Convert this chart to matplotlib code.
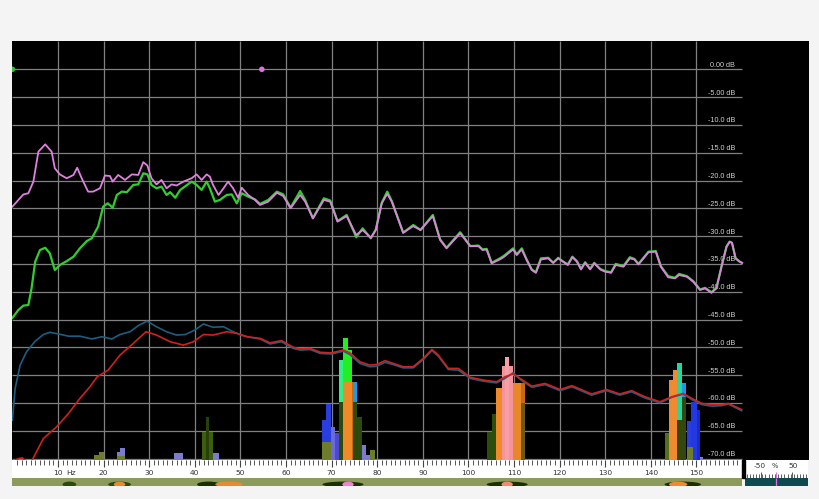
import matplotlib
matplotlib.use("Agg")
import matplotlib.pyplot as plt
from matplotlib.patches import Ellipse, Rectangle

# ---------------- data ----------------
pink_f = [0, 1.2, 2.4, 3.5, 4.6, 5.7, 7.2, 8.6, 9.3, 10.4, 11.9, 13.4, 14.2, 15.2, 16.6, 17.7,
          19.2, 20.3, 21.4, 22.0, 23.2, 24.7, 26.2, 27.6, 28.7, 29.6, 30.5, 31.6, 32.7, 33.8,
          34.9, 36.0, 37.5, 39.3, 40.4, 41.5, 42.6, 43.3, 44.0, 45.2, 46.3, 47.3, 48.4, 49.5,
          50.3, 51.7, 53.2, 54.3, 56.1, 58.0, 59.4, 61.0, 63.1, 64.2, 65.9, 68.3, 69.7, 71.3,
          73.3, 75.4, 76.8, 78.6, 79.7, 81.0, 82.2, 83.2, 85.7, 87.9, 89.5, 92.2, 93.8, 95.2,
          98.2, 100.4, 102.2, 103.1, 104.0, 105.1, 106.9, 107.7, 109.8, 110.6, 111.7, 112.8,
          113.9, 114.8, 115.9, 117.5, 118.6, 119.7, 120.8, 121.8, 122.8, 123.8, 124.7, 125.6,
          126.7, 127.6, 128.9, 130.0, 131.3, 132.3, 134.0, 135.4, 136.4, 137.3, 139.5, 141.1,
          142.2, 143.8, 145.3, 146.2, 147.9, 149.3, 150.8, 151.9, 153.3, 154.4, 155.5, 156.6,
          157.3, 157.8, 158.6, 159.5, 160.0]
pink_db = [-24.7, -23.6, -22.5, -22.3, -20.2, -14.8, -13.5, -14.8, -17.8, -18.9, -19.6, -19.0,
           -17.7, -19.6, -22.0, -22.0, -21.4, -19.1, -19.2, -20.2, -19.0, -19.9, -18.9, -19.0,
           -16.7, -17.3, -19.6, -20.7, -19.9, -21.4, -20.7, -20.9, -20.2, -19.6, -18.9, -19.9,
           -18.9, -19.3, -20.8, -22.6, -21.4, -20.2, -21.4, -23.1, -21.3, -22.6, -23.5, -24.4,
           -23.8, -22.2, -22.8, -25.0, -22.6, -23.8, -26.8, -23.5, -23.8, -27.4, -26.4, -29.8,
           -28.9, -30.3, -28.9, -24.1, -22.4, -23.8, -29.4, -28.2, -28.9, -26.4, -30.7, -32.2,
           -29.5, -31.8, -31.8, -32.5, -32.4, -34.9, -34.2, -33.8, -32.4, -33.4, -32.4, -34.3,
           -36.1, -36.6, -34.2, -34.0, -34.8, -34.0, -34.6, -35.2, -33.8, -34.6, -36.0, -34.8,
           -36.0, -34.9, -36.0, -36.4, -36.6, -35.2, -35.5, -34.0, -34.2, -35.1, -32.9, -32.8,
           -35.5, -37.4, -37.6, -37.0, -37.3, -38.2, -39.7, -39.4, -40.2, -39.4, -35.5, -31.9,
           -31.0, -31.2, -34.0, -34.6, -34.8]

green_f = [0, 1.3, 2.4, 3.5, 4.2, 5.0, 6.05, 7.2, 8.2, 9.3, 10.4, 11.9, 13.4, 14.8, 16.3, 17.4,
           18.8, 19.9, 20.9, 22.0, 22.9, 24.0, 25.1, 26.5, 27.6, 28.7, 29.6, 30.5, 31.6, 32.7,
           33.8, 34.6, 35.7, 36.8, 39.3, 40.4, 41.5, 42.6, 43.3, 44.4, 45.5, 47.0, 48.1, 49.2,
           50.3, 51.7, 53.2, 54.3, 56.1, 58.0, 59.4, 61.0, 63.1, 64.2, 65.9, 68.3, 69.7, 71.3,
           73.3, 75.4, 76.8, 78.6, 79.7, 81.0, 82.2, 83.2, 85.7, 87.9, 89.5, 92.2, 93.8, 95.2,
           98.2, 100.4, 102.2, 103.1, 104.0, 105.1, 106.9, 107.7, 109.8, 110.6, 111.7, 112.8,
           113.9, 114.8, 115.9, 117.5, 118.6, 119.7, 120.8, 121.8, 122.8, 123.8, 124.7, 125.6,
           126.7, 127.6, 128.9, 130.0, 131.3, 132.3, 134.0, 135.4, 136.4, 137.3, 139.5, 141.1,
           142.2, 143.8, 145.3, 146.2, 147.9, 149.3, 150.8, 151.9, 153.3, 154.4, 155.5, 156.6,
           157.3, 157.8, 158.6, 159.5, 160.0]
green_db = [-44.7, -43.3, -42.5, -42.4, -39.4, -34.6, -32.5, -32.1, -33.1, -36.1, -35.2, -34.5,
            -33.7, -32.2, -30.9, -30.4, -28.3, -24.7, -24.1, -24.9, -22.6, -22.0, -22.1, -20.8,
            -20.7, -18.7, -18.9, -20.8, -21.4, -21.1, -22.6, -22.1, -23.1, -21.7, -20.2, -20.8,
            -21.7, -20.2, -21.4, -23.8, -23.5, -22.6, -22.5, -24.1, -22.3, -22.9, -23.4, -24.2,
            -23.5, -22.0, -22.5, -24.9, -21.9, -23.5, -26.8, -23.2, -23.6, -27.3, -26.2, -30.2,
            -28.6, -30.4, -28.8, -24.0, -22.0, -23.7, -29.4, -28.0, -28.9, -26.2, -30.6, -32.1,
            -29.3, -31.8, -31.7, -32.4, -32.3, -34.8, -34.0, -33.6, -32.2, -33.3, -32.2, -34.3,
            -36.0, -36.5, -34.0, -33.9, -34.8, -33.9, -34.6, -35.1, -33.7, -34.5, -35.9, -34.7,
            -35.9, -34.8, -35.9, -36.3, -36.5, -35.0, -35.4, -33.8, -34.1, -35.0, -32.8, -32.7,
            -35.4, -37.2, -37.5, -36.8, -37.2, -38.1, -39.6, -39.3, -40.1, -39.3, -35.5, -31.9,
            -31.0, -31.2, -34.0, -34.6, -34.8]

blue_f = [0, 0.6, 1.7, 3.1, 5.0, 6.8, 8.2, 10.1, 12.3, 14.8, 17.4, 19.6, 21.8, 23.6, 25.8, 27.6,
          29.5, 31.6, 33.8, 36.0, 37.9, 40.0, 41.9, 44.0, 46.3, 48.4, 50.6, 52.1, 54.3, 56.5,
          59.0, 61.6, 63.1, 65.3, 67.5, 70.0, 72.6, 74.0, 76.2, 78.4, 79.9, 81.7, 83.5, 85.7,
          87.9, 90.1, 92.0, 93.4, 95.6, 97.8, 100.4, 103.3, 106.2, 108.0, 109.8, 111.7, 113.9,
          116.8, 120.1, 122.7, 127.0, 130.3, 133.2, 135.8, 138.7, 142.0, 144.6, 147.1, 149.0,
          151.2, 153.4, 155.5, 157.0, 159.9]
blue_db = [-63.1, -57.4, -53.2, -50.8, -48.9, -47.7, -47.3, -47.6, -48.0, -48.0, -48.5, -48.1,
           -48.5, -47.7, -47.2, -46.1, -45.3, -46.3, -47.2, -47.8, -47.7, -46.9, -45.8, -46.4,
           -46.3, -47.2, -47.9, -48.2, -48.5, -49.4, -49.0, -50.2, -50.5, -50.4, -51.1, -51.2,
           -50.7, -51.3, -52.9, -53.5, -53.4, -52.7, -53.1, -53.7, -53.7, -52.2, -50.6, -51.6,
           -54.0, -54.1, -55.6, -56.1, -56.4, -55.6, -54.6, -56.0, -57.2, -56.7, -57.8, -57.1,
           -58.6, -57.8, -58.6, -58.0, -59.1, -60.0, -59.0, -58.4, -59.4, -60.3, -60.6, -60.5,
           -60.2, -61.4]

red_f = [0, 1.4, 2.2, 3.0, 4.2, 6.8, 9.7, 12.3, 14.8, 17.0, 18.6, 21.0, 23.6, 26.5, 29.3, 31.6,
         34.6, 37.5, 39.7, 41.9, 44.0, 47.0, 49.2, 51.4, 54.3, 56.5, 59.0, 61.6, 63.1, 65.3,
         67.5, 70.0, 72.6, 74.0, 76.2, 78.4, 79.9, 81.7, 83.5, 85.7, 87.9, 90.1, 92.0, 93.4,
         95.6, 97.8, 100.4, 103.3, 106.2, 108.0, 109.8, 111.7, 113.9, 116.8, 120.1, 122.7,
         127.0, 130.3, 133.2, 135.8, 138.7, 142.0, 144.6, 147.1, 149.0, 151.2, 153.4, 155.5,
         157.0, 159.9]
red_db = [-70.5, -70.0, -69.9, -70.5, -70.5, -66.4, -64.3, -61.9, -59.2, -57.1, -55.3, -54.1,
          -51.4, -49.3, -47.2, -47.8, -49.0, -49.6, -49.0, -47.7, -47.8, -47.2, -47.5, -48.1,
          -48.4, -49.2, -48.8, -50.0, -50.3, -50.2, -50.9, -51.0, -50.5, -51.0, -52.6, -53.2,
          -53.1, -52.4, -52.9, -53.5, -53.5, -52.0, -50.4, -51.4, -53.8, -53.8, -55.4, -55.9,
          -56.2, -55.3, -54.8, -55.8, -57.0, -56.5, -57.6, -56.9, -58.4, -57.6, -58.4, -57.8,
          -58.9, -59.8, -58.9, -58.3, -59.2, -60.1, -60.3, -60.3, -60.1, -61.2]

# bars: start Hz, end Hz, top dB, colour (drawn in this order)
bar_lo = [18.0, 19.0, 22.9, 23.7, 22.9, 35.5, 41.5, 42.5, 44.0,
          67.8, 68.8, 69.8, 70.7, 67.8, 71.7, 72.6, 73.7, 74.8, 71.7, 74.8, 75.6, 72.6, 74.4,
          76.6, 77.5, 78.5,
          104.0, 105.1, 106.0, 109.8, 111.5, 111.5, 107.3, 108.0, 109.0,
          143.1, 144.1, 144.9, 145.8, 146.8, 145.8, 146.8, 147.9, 148.8, 150.1, 147.9, 150.8]
bar_hi = [19.0, 20.0, 23.7, 24.7, 24.7, 37.5, 44.1, 43.2, 45.2,
          68.8, 69.8, 70.7, 71.7, 69.8, 72.6, 73.7, 74.4, 75.6, 72.6, 75.6, 76.6, 74.4, 74.8,
          77.5, 78.5, 79.5,
          105.1, 106.0, 107.3, 111.5, 112.4, 112.4, 108.0, 109.0, 109.8,
          144.2, 144.9, 145.8, 146.8, 147.7, 146.8, 147.7, 148.8, 150.1, 150.8, 149.2, 151.5]
bar_top = [-69.3, -68.8, -68.8, -68.1, -69.5, -69.1, -65.2, -62.6, -69.0,
           -63.1, -60.2, -64.3, -65.5, -67.0, -52.3, -48.4, -50.5, -56.2, -59.8, -59.8, -62.6,
           -56.2, -56.2, -67.6, -69.4, -68.4,
           -65.2, -62.0, -57.4, -56.4, -56.4, -60.0, -53.3, -51.8, -53.3,
           -65.4, -55.8, -54.1, -52.9, -56.5, -63.1, -59.0, -63.3, -59.8, -61.3, -67.9, -69.7]
bar_col = ['#6e7d2c', '#6e7d2c', '#7b7bd0', '#7b7bd0', '#6e7d2c', '#7b7bd0', '#3d5e0f', '#26420a', '#7b7bd0',
           '#2a3ee0', '#2a3ee0', '#6a6ad8', '#4a4ad0', '#6e7d2c', '#30ee88', '#22ee22', '#22ee22', '#2098e8',
           '#2c4a0c', '#2c4a0c', '#2c4a0c', '#f08a28', '#c86a12', '#7b7bd0', '#7b7bd0', '#6e7d2c',
           '#2c4e0c', '#2c4e0c', '#f08a28', '#e8862a', '#c86a12', '#6a5a14', '#f4949a', '#f6a0a6', '#f4949a',
           '#55701a', '#f08a30', '#f08a30', '#20d8a0', '#2098e8', '#34480e', '#34480e', '#2a3ee0',
           '#2238e0', '#1a28c8', '#6e7d2c', '#7b7bd0']

db_ticks = [0, -5, -10, -15, -20, -25, -30, -35, -40, -45, -50, -55, -60, -65, -70]
db_labels = ['0.00 dB', '-5.00 dB', '-10.0 dB', '-15.0 dB', '-20.0 dB', '-25.0 dB', '-30.0 dB',
             '-35.0 dB', '-40.0 dB', '-45.0 dB', '-50.0 dB', '-55.0 dB', '-60.0 dB', '-65.0 dB',
             '-70.0 dB']
hz_ticks = [10, 20, 30, 40, 50, 60, 70, 80, 90, 100, 110, 120, 130, 140, 150]
hz_labels = ['10', '20', '30', '40', '50', '60', '70', '80', '90', '100', '110', '120', '130',
             '140', '150']
marker_f = [0, 54.7]
marker_db = [0, 0]
marker_col = ['#30c030', '#e070e0']

# spectrogram strip blobs: centre Hz, width Hz, colour
blob_f = [12.5, 23.5, 23.5, 43.0, 47.5, 72.5, 73.6, 108.5, 108.5, 147.0, 146.0]
blob_w = [3.0, 5.0, 2.5, 5.0, 6.0, 9.0, 2.5, 9.0, 2.5, 8.0, 4.0]
blob_c = ['#2c4a10', '#2c4a10', '#e88a30', '#1a3000', '#e88a30', '#1a3000', '#f080d0',
          '#1a3000', '#f08a70', '#1a3000', '#f08a30']

# ---------------- layout ----------------
W, H = 820, 499
PX0, PXS = 12.4, 4.56  # pixel of 0 Hz, pixels per Hz


def ax_px(fig, x0, y0, x1, y1):
    return fig.add_axes([x0 / W, (H - y1) / H, (x1 - x0) / W, (y1 - y0) / H])


def hz(px):
    return (px - PX0) / PXS


def bare(a):
    a.set_xticks([])
    a.set_yticks([])
    for s in a.spines.values():
        s.set_visible(False)


fig = plt.figure(figsize=(8.2, 4.99), dpi=100, facecolor='#f4f4f4')

ax = ax_px(fig, 12, 41, 809, 460)
ax.set_facecolor('black')
ax.set_xlim(hz(12), hz(809))
ymin = -(460 - 69.3) * 5 / 27.8
ymax = (69.3 - 41) * 5 / 27.8
ax.set_ylim(ymin, ymax)
bare(ax)

# grid
ax.vlines(hz_ticks, ymin, ymax, color='#808080', lw=0.9, zorder=1)
ax.hlines(db_ticks, hz(12), hz(742), color='#808080', lw=0.9, zorder=1)
for v, lab in zip(db_ticks, db_labels):
    ax.text(hz(735), v + 0.45, lab, ha='right', va='baseline', fontsize=5.2,
            family='Liberation Sans', color='#cfcfcf', zorder=2)

# bars
for lo, hi, top, c in zip(bar_lo, bar_hi, bar_top, bar_col):
    ax.bar(lo, top - ymin, width=hi - lo, bottom=ymin, align='edge', color=c, lw=0, zorder=3)

# curves
ax.plot(blue_f, blue_db, color='#1c5e82', lw=1.2, zorder=4, solid_joinstyle='round')
ax.plot(red_f, red_db, color='#d02020', lw=1.2, zorder=5, solid_joinstyle='round')
ax.plot(green_f, green_db, color='#2ed02e', lw=1.6, zorder=6, solid_joinstyle='round')
ax.plot(pink_f, pink_db, color='#e080e0', lw=1.3, zorder=7, solid_joinstyle='round')
ax.scatter(marker_f, marker_db, s=16, c=marker_col, zorder=8, clip_on=True, lw=0)

# ruler
rax = ax_px(fig, 12, 460, 742, 478)
rax.set_facecolor('white')
rax.set_xlim(hz(12), hz(742))
rax.set_ylim(0, 1)
bare(rax)
small = [t for t in range(1, 160) if t % 10 != 0]
rax.vlines(small, 0.70, 1, color='#555555', lw=0.7)
rax.vlines(hz_ticks, 0.60, 1, color='#444444', lw=0.8)
for t, lab in zip(hz_ticks, hz_labels):
    rax.text(t, 0.30, lab, ha='center', va='center', fontsize=5.4, color='#333333')
rax.text(11.9, 0.30, 'Hz', ha='left', va='center', fontsize=5.4, color='#333333')

# spectrogram strip
sax = ax_px(fig, 12, 478, 742, 486)
sax.set_facecolor('#8c9a5c')
sax.set_xlim(hz(12), hz(742))
sax.set_ylim(0, 1)
bare(sax)
for f, w, c in zip(blob_f, blob_w, blob_c):
    sax.add_patch(Ellipse((f, 0.2), w, 0.7, color=c, lw=0))

# black separator between ruler and small panel
fig.patches.append(Rectangle((742 / W, (H - 478) / H), 3 / W, 18 / H,
                             transform=fig.transFigure, color='black'))

# small balance panel
bax = ax_px(fig, 745, 460, 808, 478)
bax.set_facecolor('white')
bax.set_xlim(-100, 100)
bax.set_ylim(0, 1)
bare(bax)
bax.vlines(range(-95, 100, 10), 0, 0.22, color='#444444', lw=0.6)
bax.vlines([-50, 50], 0, 0.32, color='#444444', lw=0.6)
bax.text(-52, 0.66, '-50', ha='center', va='center', fontsize=5.4, color='#333333')
bax.text(-5, 0.66, '%', ha='center', va='center', fontsize=4.8, color='#333333')
bax.text(52, 0.66, '50', ha='center', va='center', fontsize=5.4, color='#333333')
bax.vlines([0], 0, 0.35, color='#e070e0', lw=0.8)

tax = ax_px(fig, 745, 478, 808, 486)
tax.set_facecolor('#0e4a50')
tax.set_xlim(-100, 100)
tax.set_ylim(0, 1)
bare(tax)
tax.vlines([0], 0, 1, color='#e070e0', lw=0.9)

fig.savefig('out.png', dpi=100, facecolor=fig.get_facecolor())
